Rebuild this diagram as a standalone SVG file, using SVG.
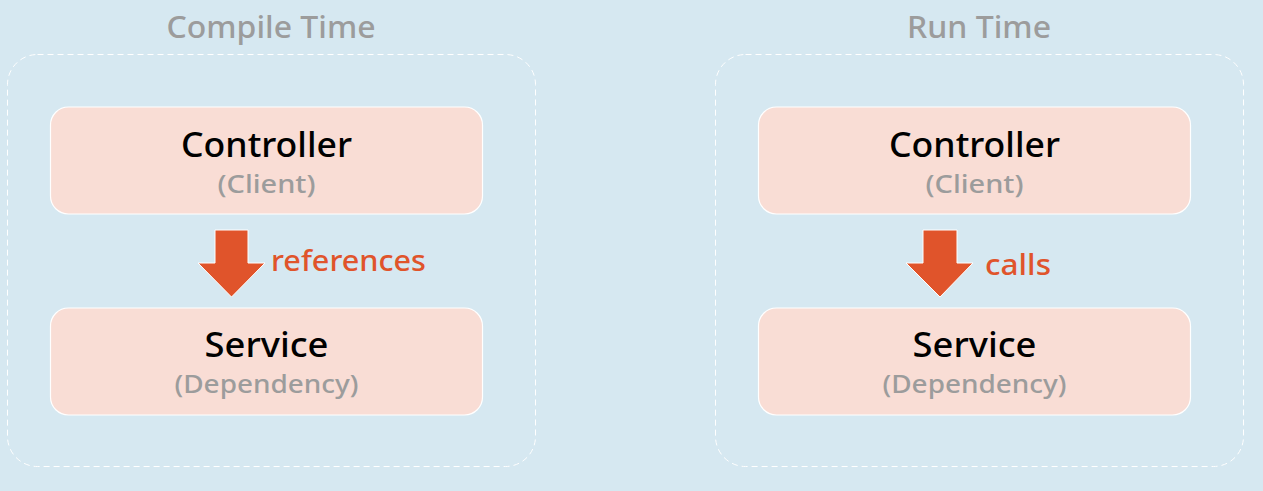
<svg xmlns="http://www.w3.org/2000/svg" width="1263" height="491" viewBox="0 0 1263 491">
<style>
.bg{fill:#d6e8f1}
.frame{fill:none;stroke:#ffffff;stroke-width:1;stroke-dasharray:6 4}
.node{fill:#f9ddd5;stroke:#ffffff;stroke-width:1.2}
.title{font-family:"Noto Sans","DejaVu Sans",sans-serif;font-size:31px;fill:#9c9c9c;text-anchor:middle;font-weight:500}
.main{font-family:"Noto Sans","DejaVu Sans",sans-serif;font-size:35px;fill:#000000;text-anchor:middle;font-weight:500}
.sub{font-family:"Noto Sans","DejaVu Sans",sans-serif;font-size:25px;fill:#9c9c9c;text-anchor:middle;font-weight:500}
.lbl{font-family:"Noto Sans","DejaVu Sans",sans-serif;font-size:28px;fill:#e0542b;font-weight:500}
.arrow{fill:#e0542b;stroke:#ffffff;stroke-width:1}
</style>
<rect class="bg" x="0" y="0" width="1263" height="491"/>
<g id="compile-time">
<rect class="frame" x="7.5" y="54.5" width="528" height="412" rx="30"/>
<text class="title" x="271" y="38" textLength="209" lengthAdjust="spacingAndGlyphs">Compile Time</text>
</g>
<g id="run-time">
<rect class="frame" x="715.5" y="54.5" width="528" height="412" rx="30"/>
<text class="title" x="979" y="38" textLength="144" lengthAdjust="spacingAndGlyphs">Run Time</text>
</g>
<g id="controller-compile">
<rect class="node" x="50.5" y="107" width="432" height="107" rx="18"/>
<text class="main" x="266.5" y="157" textLength="171" lengthAdjust="spacingAndGlyphs">Controller</text>
<text class="sub" x="266.5" y="193" textLength="98" lengthAdjust="spacingAndGlyphs">(Client)</text>
</g>
<g id="service-compile">
<rect class="node" x="50.5" y="308" width="432" height="107" rx="18"/>
<text class="main" x="266.5" y="357" textLength="124" lengthAdjust="spacingAndGlyphs">Service</text>
<text class="sub" x="266.5" y="393" textLength="184" lengthAdjust="spacingAndGlyphs">(Dependency)</text>
</g>
<g id="controller-run">
<rect class="node" x="758.5" y="107" width="432" height="107" rx="18"/>
<text class="main" x="974.5" y="157" textLength="171" lengthAdjust="spacingAndGlyphs">Controller</text>
<text class="sub" x="974.5" y="193" textLength="98" lengthAdjust="spacingAndGlyphs">(Client)</text>
</g>
<g id="service-run">
<rect class="node" x="758.5" y="308" width="432" height="107" rx="18"/>
<text class="main" x="974.5" y="357" textLength="124" lengthAdjust="spacingAndGlyphs">Service</text>
<text class="sub" x="974.5" y="393" textLength="184" lengthAdjust="spacingAndGlyphs">(Dependency)</text>
</g>
<g id="connectors">
<g id="arrow-references">
<polygon class="arrow" points="215,230 248,230 248,263 265,263 231.5,297 198,263 215,263"/>
<text class="lbl" x="271" y="271" textLength="155" lengthAdjust="spacingAndGlyphs">references</text>
</g>
<g id="arrow-calls">
<polygon class="arrow" points="923,230 957,230 957,263 973,263 940,297 906,263 923,263"/>
<text class="lbl" x="985" y="275" textLength="66" lengthAdjust="spacingAndGlyphs">calls</text>
</g>
</g>
</svg>
